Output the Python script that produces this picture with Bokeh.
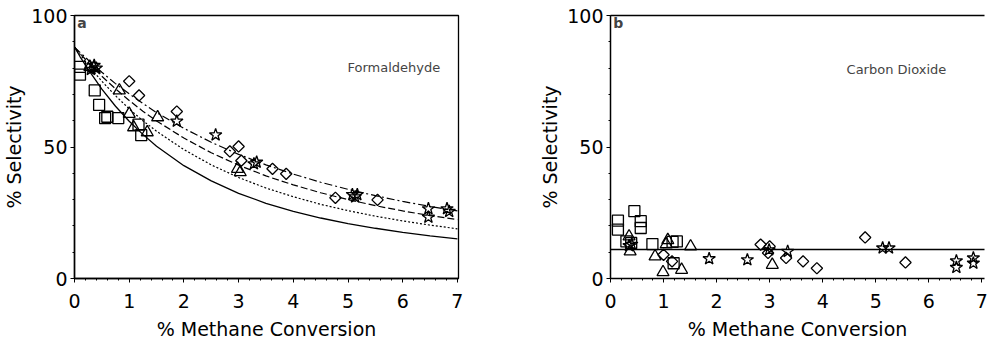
import math
from bokeh.plotting import figure
from bokeh.layouts import row
from bokeh.models import Range1d, LinearAxis, FixedTicker, Label
from bokeh.embed import file_html
from bokeh.resources import INLINE

# ---------------- panel a : formaldehyde selectivity ----------------
a_sq_x = [0.10, 0.10, 0.37, 0.45, 0.56, 0.60, 0.80, 1.17, 1.22]
a_sq_y = [80.5, 77.5, 71.5, 66.0, 61.0, 61.5, 61.0, 58.5, 54.5]

a_tri_x = [0.28, 0.35, 0.82, 1.00, 1.08, 1.33, 1.52, 2.98, 3.03]
a_tri_y = [80.5, 80.0, 71.5, 62.6, 57.5, 55.6, 61.3, 41.7, 40.4]

a_dia_x = [1.00, 1.18, 1.87, 2.84, 3.00, 3.05, 3.62, 3.87, 4.77, 5.54]
a_dia_y = [75.0, 69.6, 63.5, 48.3, 50.2, 44.8, 41.7, 39.8, 30.7, 29.9]

a_star_x = [0.30, 0.36, 0.40, 1.87, 2.58, 3.28, 3.33, 5.08, 5.17, 5.13, 6.47, 6.47, 6.81, 6.85]
a_star_y = [79.5, 81.0, 80.0, 59.8, 54.6, 43.6, 44.2, 31.9, 31.9, 31.0, 26.5, 23.3, 26.5, 25.5]

# model curves
curve_x = [0, 0.1, 0.25, 0.5, 0.75, 1, 1.25, 1.5, 2, 2.5, 3, 3.5, 4, 4.5, 5, 5.5, 6, 6.5, 7]
curve_solid = [88, 84.4, 79.5, 72.0, 65.5, 59.8, 54.8, 50.3, 42.9, 37.1, 32.4, 28.6, 25.5, 23.0, 20.9, 19.1, 17.5, 16.2, 15.1]
curve_dotted = [88, 85.2, 81.2, 75.0, 69.5, 64.5, 60.0, 56.0, 49.0, 43.2, 38.4, 34.4, 31.1, 28.2, 25.8, 23.7, 21.9, 20.3, 18.9]
curve_dashed = [88, 85.6, 82.2, 76.9, 72.1, 67.7, 63.6, 59.9, 53.4, 47.8, 43.1, 39.0, 35.6, 32.6, 30.0, 27.7, 25.7, 23.9, 22.4]
curve_dashdot = [88, 86.0, 83.1, 78.4, 74.1, 70.2, 66.6, 63.1, 57.1, 51.8, 47.2, 43.2, 39.7, 36.6, 33.9, 31.5, 29.3, 27.4, 25.7]

# ---------------- panel b : carbon dioxide selectivity ----------------
b_sq_x = [0.14, 0.14, 0.45, 0.57, 0.57, 0.30, 0.39, 0.79, 1.17, 1.25, 1.19]
b_sq_y = [22.0, 18.6, 25.6, 21.8, 19.2, 14.1, 13.5, 13.1, 13.9, 14.1, 5.8]

b_tri_x = [0.35, 0.37, 0.84, 0.99, 1.05, 1.08, 1.34, 1.51, 3.05]
b_tri_y = [16.0, 10.3, 8.4, 2.4, 13.0, 14.6, 3.3, 12.2, 5.2]

b_dia_x = [1.00, 1.16, 2.83, 3.00, 2.97, 3.31, 3.63, 3.89, 4.80, 5.56]
b_dia_y = [9.0, 6.5, 12.9, 12.2, 9.7, 7.8, 6.5, 3.9, 15.6, 6.1]

b_star_x = [0.35, 0.40, 1.86, 2.58, 2.99, 3.34, 5.13, 5.25, 6.52, 6.52, 6.84, 6.84]
b_star_y = [12.5, 13.0, 7.5, 7.1, 10.9, 10.3, 11.6, 11.6, 6.7, 4.2, 7.8, 5.8]

b_fit_x = [0, 7.1]
b_fit_y = [11.0, 11.0]

x_ticks = [0, 1, 2, 3, 4, 5, 6, 7]
y_ticks = [0, 50, 100]

FONT = "DejaVu Sans"


def make_panel(letter, title, title_xy, border_left, border_right, frame_w, x_end, outline):
    p = figure(
        frame_width=frame_w, frame_height=263,
        min_border_left=border_left, min_border_right=border_right,
        min_border_top=15, min_border_bottom=0,
        x_range=Range1d(0, x_end), y_range=Range1d(0, 100),
        output_backend="svg", toolbar_location=None,
        background_fill_color="white", border_fill_color="white",
    )
    p.grid.visible = False
    p.outline_line_color = "black" if outline else None
    p.outline_line_width = 1.3

    for ax in (p.xaxis[0], p.yaxis[0]):
        ax.axis_line_width = 1.5
        ax.major_tick_in = 0
        ax.major_tick_out = 4
        ax.minor_tick_in = 0
        ax.minor_tick_out = 2
        ax.major_label_text_font = FONT
        ax.major_label_text_font_size = "19px"
        ax.major_label_text_color = "black"
        ax.axis_label_text_font = FONT
        ax.axis_label_text_font_size = "19px"
        ax.axis_label_text_font_style = "normal"
        ax.axis_label_text_color = "black"

    p.xaxis.ticker = FixedTicker(ticks=x_ticks,
                                 minor_ticks=[i * 0.2 for i in range(36)])
    p.yaxis.ticker = FixedTicker(ticks=y_ticks,
                                 minor_ticks=[i * 10 for i in range(11)])
    p.xaxis.axis_label = "% Methane Conversion"
    p.yaxis.axis_label = "% Selectivity"
    p.xaxis.major_label_standoff = 11
    p.xaxis.axis_label_standoff = 7
    p.yaxis.major_label_standoff = 3
    p.yaxis.axis_label_standoff = 3

    if not outline:
        top = LinearAxis(ticker=FixedTicker(ticks=[]), major_label_text_font_size="0px",
                         axis_line_width=1.3)
        p.add_layout(top, "above")

    p.add_layout(Label(x=0.05, y=97.0, text=letter, text_font=FONT,
                       text_font_style="bold", text_font_size="14px",
                       text_baseline="middle"))
    p.add_layout(Label(x=title_xy[0], y=title_xy[1], text=title, text_font=FONT,
                       text_font_size="13px", text_baseline="middle"))
    return p


def draw_points(p, sx, sy, tx, ty, dx, dy, stx, sty):
    kw = dict(fill_color=None, line_color="black", line_width=1.3)
    p.scatter(sx, sy, marker="square", size=11, **kw)
    p.scatter(tx, ty, marker="triangle", size=12, **kw)
    p.scatter(dx, dy, marker="square", angle=math.pi / 4, size=8, **kw)
    p.scatter(stx, sty, marker="star", size=13, **kw)


pa = make_panel("a", "Formaldehyde", (4.99, 80.2), 72, 40, 384, 7.02, True)
pa.line(curve_x, curve_solid, line_color="black", line_width=1.3)
pa.line(curve_x, curve_dotted, line_color="black", line_width=1.2, line_dash="2 2")
pa.line(curve_x, curve_dashed, line_color="black", line_width=1.2, line_dash="7 3")
pa.line(curve_x, curve_dashdot, line_color="black", line_width=1.2, line_dash="8 3 2 3")
draw_points(pa, a_sq_x, a_sq_y, a_tri_x, a_tri_y, a_dia_x, a_dia_y, a_star_x, a_star_y)

pb = make_panel("b", "Carbon Dioxide", (4.45, 79.4), 112, 6, 374, 7.05, False)
pb.line(b_fit_x, b_fit_y, line_color="black", line_width=1.5)
draw_points(pb, b_sq_x, b_sq_y, b_tri_x, b_tri_y, b_dia_x, b_dia_y, b_star_x, b_star_y)

layout = row(pa, pb)
open("out.html", "w").write(file_html(layout, INLINE))
